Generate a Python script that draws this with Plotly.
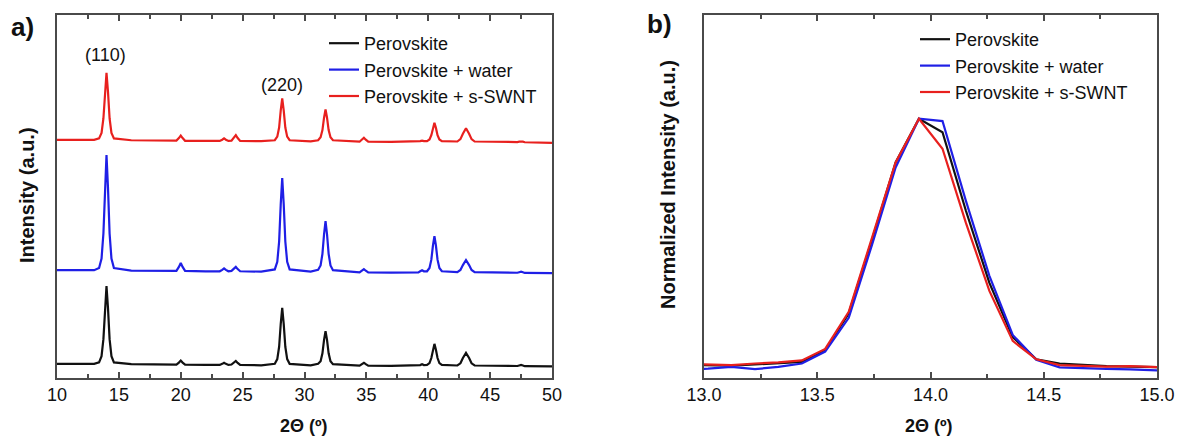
import plotly.graph_objects as go

# ---------------- Panel a data (XRD patterns, offset vertically) ----------------
two_theta_a = [10, 11.5, 13.0,
               13.4, 13.6, 13.75, 13.88, 14.0, 14.12, 14.25, 14.4, 14.6,
               16, 17.5, 19.3,
               19.65, 19.85, 20.0, 20.15, 20.35,
               22, 23.15, 23.35, 23.5, 23.65, 23.85, 24.1, 24.3, 24.45, 24.6, 24.8,
               26.5, 27.6, 27.8, 27.95, 28.08, 28.2, 28.32, 28.45, 28.6, 28.8,
               30.5, 30.9, 31.1, 31.3, 31.45, 31.58, 31.7, 31.82, 31.95, 32.1, 32.3,
               34.45, 34.65, 34.8, 34.95, 35.15,
               37, 39.2, 39.35, 39.5, 39.65, 39.9, 40.1, 40.25, 40.38, 40.5, 40.62, 40.75, 40.9, 41.1,
               42.35, 42.6, 42.8, 43.05, 43.3, 43.5, 43.75,
               45.5, 47.2, 47.35, 47.5, 47.65, 47.8, 50]

perovskite_a = [3.9, 4.0, 3.9,
                4.3, 6.0, 10.7, 19.3, 25.3, 19.3, 10.7, 6.0, 4.3,
                3.8, 3.7, 3.7,
                3.7, 4.25, 4.8, 4.25, 3.7,
                3.6, 3.6, 3.9, 4.2, 3.9, 3.6, 3.7, 4.15, 4.7, 4.15, 3.6,
                3.5, 3.9, 5.2, 8.6, 14.9, 19.3, 14.9, 8.6, 5.2, 3.9,
                3.5, 3.8, 3.9, 4.6, 6.8, 10.5, 12.9, 10.5, 6.8, 4.6, 3.8,
                3.4, 3.8, 4.2, 3.8, 3.4,
                3.35, 3.35, 3.55, 3.8, 3.55, 3.6, 4.1, 5.5, 7.8, 9.4, 7.8, 5.5, 4.1, 3.6,
                3.45, 4.05, 5.5, 6.9, 5.5, 4.05, 3.45,
                3.3, 3.3, 3.45, 3.6, 3.45, 3.25, 3.2]

water_a = [29.7, 29.8, 29.7,
           30.3, 32.9, 39.8, 52.5, 61.4, 52.5, 39.8, 32.9, 30.3,
           29.6, 29.5, 29.5,
           29.5, 30.6, 31.7, 30.6, 29.5,
           29.4, 29.4, 29.8, 30.2, 29.8, 29.4, 29.5, 30.05, 30.6, 30.0, 29.4,
           29.3, 29.9, 32.0, 37.6, 47.9, 55.1, 47.9, 37.6, 32.0, 29.9,
           29.3, 29.6, 29.8, 31.0, 34.2, 39.6, 43.2, 39.6, 34.2, 31.0, 29.7,
           29.1, 29.55, 30.0, 29.55, 29.1,
           29.05, 29.1, 29.4, 29.7, 29.4, 29.4, 30.3, 32.6, 36.5, 39.1, 36.5, 32.6, 30.3, 29.4,
           29.15, 29.75, 31.1, 32.5, 31.1, 29.75, 29.15,
           29.0, 29.0, 29.15, 29.3, 29.15, 28.95, 28.9]

swnt_a = [65.6, 65.7, 65.6,
          66.0, 67.5, 71.5, 78.9, 84.1, 78.9, 71.5, 67.5, 66.0,
          65.5, 65.4, 65.4,
          65.4, 66.1, 66.8, 66.1, 65.35,
          65.3, 65.3, 65.65, 66.0, 65.65, 65.3, 65.4, 66.15, 66.9, 66.1, 65.3,
          65.25, 65.5, 66.5, 69.0, 73.7, 77.0, 73.7, 69.0, 66.5, 65.5,
          65.2, 65.4, 65.5, 66.3, 68.3, 71.7, 74.0, 71.7, 68.3, 66.3, 65.5,
          65.1, 65.65, 66.2, 65.65, 65.1,
          65.05, 65.1, 65.25, 65.4, 65.25, 65.25, 65.7, 66.9, 68.9, 70.3, 68.9, 66.9, 65.7, 65.25,
          65.15, 65.8, 67.3, 68.8, 67.3, 65.8, 65.15,
          65.0, 65.0, 65.1, 65.2, 65.1, 64.95, 64.8]

peak_labels = ["(110)", "(220)"]
peak_label_x = [13.88, 28.16]
peak_label_y = [89.0, 80.7]

# ---------------- Panel b data (normalized (110) peak) ----------------
two_theta_b = [12.914, 13.018, 13.121, 13.225, 13.328, 13.432, 13.535, 13.639, 13.742,
               13.846, 13.949, 14.053, 14.156, 14.260, 14.363, 14.467, 14.570, 14.674,
               14.777, 14.881, 14.984, 15.088]

perovskite_b = [0.050, 0.048, 0.048, 0.052, 0.056, 0.062, 0.108, 0.249, 0.533,
                0.831, 1.000, 0.948, 0.646, 0.367, 0.158, 0.072, 0.056, 0.050,
                0.046, 0.044, 0.043, 0.041]

water_b = [0.033, 0.036, 0.043, 0.034, 0.043, 0.056, 0.102, 0.232, 0.514,
           0.812, 1.000, 0.991, 0.684, 0.394, 0.166, 0.070, 0.041, 0.037,
           0.035, 0.033, 0.029, 0.027]

swnt_b = [0.054, 0.053, 0.050, 0.056, 0.060, 0.068, 0.112, 0.255, 0.541,
          0.831, 1.000, 0.884, 0.599, 0.336, 0.143, 0.072, 0.050, 0.046,
          0.044, 0.046, 0.043, 0.039]

series_names = ["Perovskite", "Perovskite + water", "Perovskite + s-SWNT"]
series_colors = ["#111111", "#1f1fe6", "#e8201e"]

FONT = "Liberation Sans, Arial, Helvetica, sans-serif"
AXCOL = "#4a4a4a"
W, H = 1181, 437

fig = go.Figure()

for name, col, ys in zip(series_names, series_colors, [perovskite_a, water_a, swnt_a]):
    fig.add_trace(go.Scatter(x=two_theta_a, y=ys, mode="lines", name=name,
                             line=dict(color=col, width=2.2), xaxis="x", yaxis="y",
                             legend="legend"))

for name, col, ys in zip(series_names, series_colors, [perovskite_b, water_b, swnt_b]):
    fig.add_trace(go.Scatter(x=two_theta_b, y=ys, mode="lines", name=name,
                             line=dict(color=col, width=2.2), xaxis="x2", yaxis="y2",
                             legend="legend2"))

for lab, lx, ly in zip(peak_labels, peak_label_x, peak_label_y):
    fig.add_annotation(x=lx, y=ly, xref="x", yref="y", text=lab, showarrow=False,
                       font=dict(family=FONT, size=18, color="#111"))


def paper_text(px, py, text, size, angle=0):
    fig.add_annotation(x=px / W, y=1 - py / H, xref="paper", yref="paper", text=text,
                       showarrow=False, textangle=angle, xanchor="center", yanchor="middle",
                       font=dict(family=FONT, size=size, color="#111"))


# panel letters
paper_text(22, 27, "<b>a)</b>", 26)
paper_text(659, 24, "<b>b)</b>", 26)
# axis titles
paper_text(304, 426, "<b>2Θ (º)</b>", 18)
paper_text(929, 426, "<b>2Θ (º)</b>", 18)
paper_text(27, 195, "<b>Intensity (a.u.)</b>", 20, -90)
paper_text(668, 185, "<b>Normalized Intensity (a.u.)</b>", 20, -90)

ydom = [59 / H, 422 / H]

xaxis_common = dict(showline=True, linecolor=AXCOL, linewidth=1.5, mirror="ticks",
                    ticks="inside", ticklen=6, tickwidth=1.5, tickcolor=AXCOL,
                    showgrid=False, zeroline=False, automargin=False,
                    tickfont=dict(family=FONT, size=18, color="#111"))
yaxis_common = dict(showline=True, linecolor=AXCOL, linewidth=1.5, mirror=True,
                    ticks="", showticklabels=False, showgrid=False, zeroline=False,
                    automargin=False)

fig.update_layout(
    width=W, height=H,
    margin=dict(l=0, r=0, t=0, b=0, autoexpand=False),
    paper_bgcolor="white", plot_bgcolor="white",
    font=dict(family=FONT, color="#111"),
    xaxis=dict(domain=[57 / W, 552 / W], range=[10, 50], dtick=5, tick0=10,
               minor=dict(ticks="inside", dtick=2.5, ticklen=4, tickwidth=1.5, tickcolor=AXCOL),
               anchor="y", **xaxis_common),
    yaxis=dict(domain=ydom, range=[0, 100], anchor="x", **yaxis_common),
    xaxis2=dict(domain=[704 / W, 1157 / W], range=[13, 15], dtick=0.5, tick0=13,
                tickformat=".1f",
                minor=dict(ticks="inside", dtick=0.25, ticklen=4, tickwidth=1.5, tickcolor=AXCOL),
                anchor="y2", **xaxis_common),
    yaxis2=dict(domain=ydom, range=[0, 1.4], anchor="x2", **yaxis_common),
    legend=dict(x=324 / W, y=1 - 25 / H, xanchor="left", yanchor="top",
                bgcolor="rgba(0,0,0,0)", font=dict(family=FONT, size=18, color="#111"),
                tracegroupgap=0, itemwidth=30),
    legend2=dict(x=915 / W, y=1 - 21 / H, xanchor="left", yanchor="top",
                 bgcolor="rgba(0,0,0,0)", font=dict(family=FONT, size=18, color="#111"),
                 tracegroupgap=0, itemwidth=30),
)

fig.write_html("out.html", config={"displayModeBar": False},
               post_script="document.body.style.margin='0';document.body.style.overflow='hidden';")
